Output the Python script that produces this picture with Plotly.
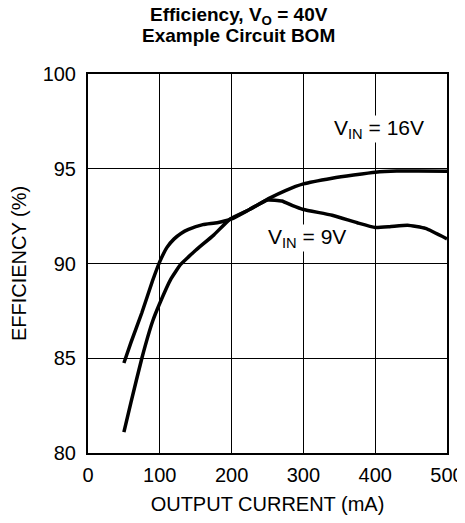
import plotly.graph_objects as go

current_9v = [50, 60, 75, 90, 100, 110, 120, 130, 140, 160, 180, 200, 225, 250, 270, 285, 300, 340, 375, 400, 420, 445, 470, 500]
eff_9v = [84.75, 85.85, 87.4, 89.1, 90.1, 90.85, 91.3, 91.6, 91.8, 92.05, 92.15, 92.35, 92.85, 93.35, 93.3, 93.05, 92.85, 92.55, 92.15, 91.9, 91.94, 92.02, 91.85, 91.3]

current_16v = [50, 60, 75, 90, 100, 115, 129, 140, 150, 175, 198, 225, 253, 275, 300, 340, 370, 400, 430, 460, 500]
eff_16v = [81.1, 82.7, 85.0, 86.95, 87.9, 89.15, 89.95, 90.35, 90.7, 91.5, 92.35, 92.85, 93.45, 93.85, 94.2, 94.5, 94.67, 94.82, 94.88, 94.88, 94.87]

x_ticks = [0, 100, 200, 300, 400, 500]
y_ticks = [80, 85, 90, 95, 100]

FONT = "Liberation Sans, Arial, Helvetica, sans-serif"

fig = go.Figure()
fig.add_trace(go.Scatter(x=current_9v, y=eff_9v, mode="lines",
                         line=dict(color="black", width=3.5, shape="spline", smoothing=0.4),
                         showlegend=False))
fig.add_trace(go.Scatter(x=current_16v, y=eff_16v, mode="lines",
                         line=dict(color="black", width=3.5, shape="spline", smoothing=0.4),
                         showlegend=False))

fig.add_annotation(x=405, y=97.1, text="V<sub>IN</sub> = 16V", showarrow=False,
                   font=dict(family=FONT, size=21, color="black"), bgcolor="white", borderpad=0)
fig.add_annotation(x=305, y=91.35, text="V<sub>IN</sub> = 9V", showarrow=False,
                   font=dict(family=FONT, size=21, color="black"), bgcolor="white", borderpad=0)

# title as two lines of annotation text
fig.add_annotation(x=0.42, y=1.152, xref="paper", yref="paper", showarrow=False,
                   text="<b>Efficiency, V<sub>O</sub> = 40V</b>",
                   font=dict(family=FONT, size=19, color="black"), yanchor="middle")
fig.add_annotation(x=0.42, y=1.102, xref="paper", yref="paper", showarrow=False,
                   text="<b>Example Circuit BOM</b>",
                   font=dict(family=FONT, size=19, color="black"), yanchor="middle")

# the page body adds an 8px margin, so the figure is sized to fit the window after it
fig.update_layout(
    width=457, height=515,
    margin=dict(l=80, r=18, t=66, b=70, autoexpand=False),
    paper_bgcolor="white", plot_bgcolor="white",
    font=dict(family=FONT, color="black", size=20),
)
fig.update_xaxes(range=[0, 500], tickvals=x_ticks, ticktext=[str(v) for v in x_ticks],
                 showgrid=True, gridcolor="black", gridwidth=1,
                 showline=True, linecolor="black", linewidth=2, mirror=True,
                 zeroline=False, ticks="", ticklabelstandoff=3, automargin=False,
                 title=dict(text="OUTPUT CURRENT (mA)", font=dict(size=20), standoff=12),
                 tickfont=dict(size=20))
fig.update_yaxes(range=[80, 100], tickvals=y_ticks, ticktext=[str(v) for v in y_ticks],
                 showgrid=True, gridcolor="black", gridwidth=1,
                 showline=True, linecolor="black", linewidth=2, mirror=True,
                 zeroline=False, ticks="", ticklabelstandoff=6, automargin=False,
                 title=dict(text="EFFICIENCY (%)", font=dict(size=20), standoff=12),
                 tickfont=dict(size=20))

fig.write_html("out.html")
